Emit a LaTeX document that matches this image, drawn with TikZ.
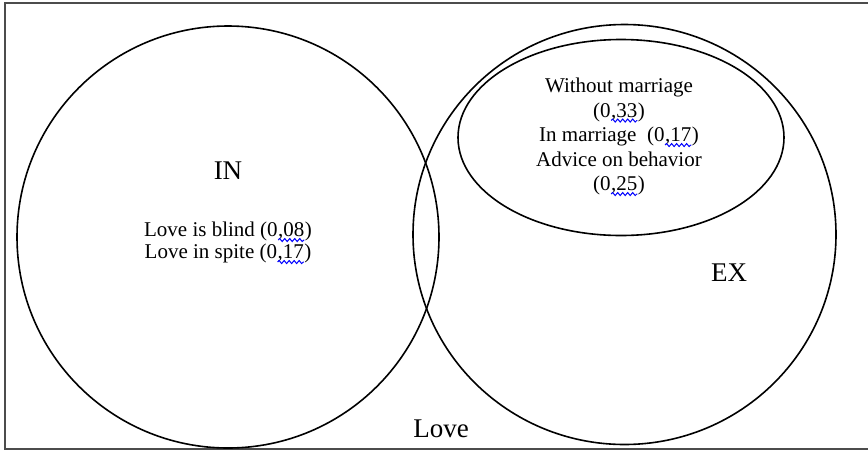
\documentclass[tikz,border=0pt]{standalone}
\usepackage{fontspec}
\setmainfont{Liberation Serif}
\usetikzlibrary{decorations.pathmorphing}

% blue spell-check squiggle under a piece of text
\newcommand{\wavy}[1]{\tikz[baseline=(w.base)]{\node[inner sep=0pt, outer sep=0pt] (w) {#1};
  \draw[blue, line width=1pt, decorate, decoration={snake, amplitude=1.5pt, segment length=5pt}]
    ([yshift=-3.5pt]w.base west) -- ([yshift=-3.5pt]w.base east);}}

\begin{document}
\begin{tikzpicture}[
    x=1pt, y=-1pt,
    frame/.style={line width=2.5pt, draw=black!70},
    set_line/.style={line width=1.6pt},
    big_label/.style={font=\fontsize{27}{30}\selectfont, inner sep=0pt},
    item_text/.style={align=center, inner sep=0pt}
]
\useasboundingbox (0,0) rectangle (868,451);

% --- Marco ---
\draw[frame] (5,3) rectangle (880,449);

% --- Conjuntos ---
\coordinate (inC) at (228,237);
\coordinate (exC) at (624.5,234.5);
\coordinate (subC) at (621,137.5);
\draw[set_line] (inC) circle[radius=211pt];
\draw[set_line] (exC) ellipse[x radius=211.5pt, y radius=210pt];
\draw[set_line] (subC) ellipse[x radius=163pt, y radius=98pt];

% --- Etiquetas ---
\node[big_label] (inLabel) at (228,171) {IN};
\node[big_label] (exLabel) at (729,273) {EX};
\node[big_label] (loveLabel) at (441,429) {Love};

% --- Textos de los conjuntos ---
\node[item_text, font=\fontsize{21}{22}\selectfont] (inItems) at (228,243)
    {Love is blind (0\wavy{,08})\\Love in spite (0\wavy{,17})};
\node[item_text, font=\fontsize{21}{24.5}\selectfont] (subItems) at (619,137)
    {Without marriage\\(0\wavy{,33})\\In marriage~ (0\wavy{,17})\\Advice on behavior\\(0\wavy{,25})};

\end{tikzpicture}
\end{document}
